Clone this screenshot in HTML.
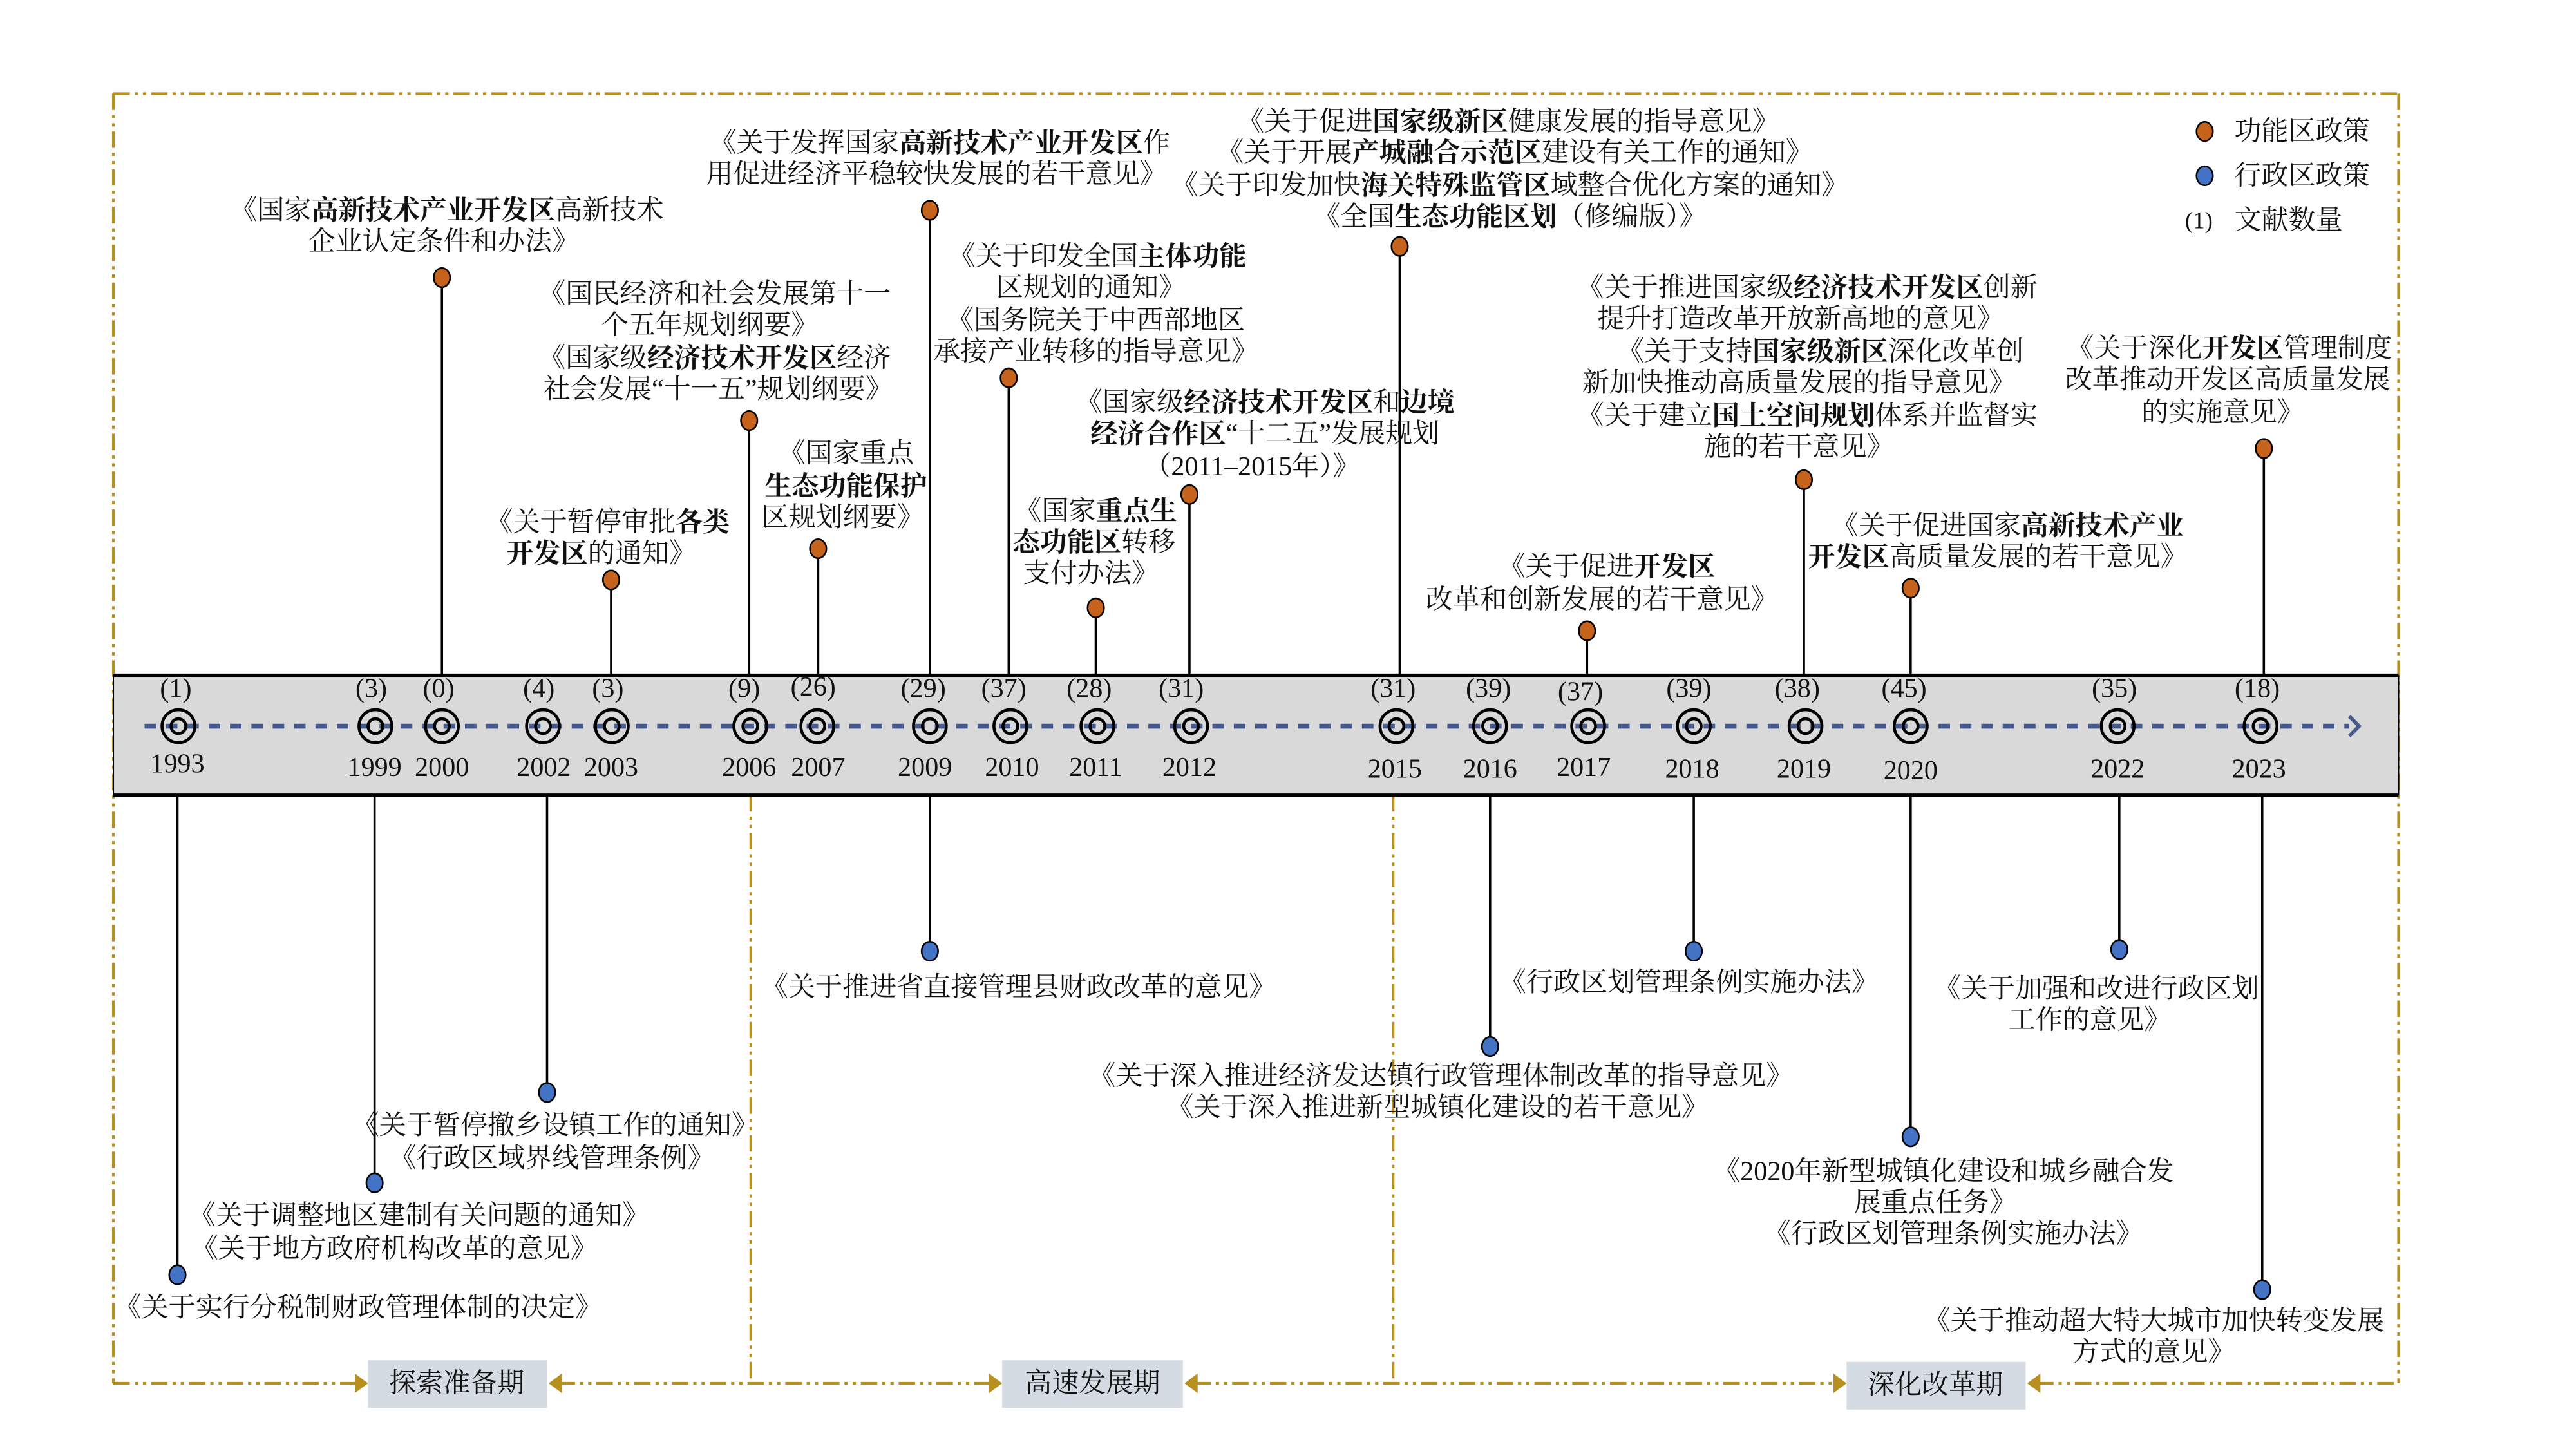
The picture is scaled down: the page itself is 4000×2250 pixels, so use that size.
<!DOCTYPE html>
<html><head><meta charset="utf-8"><style>
html,body{margin:0;padding:0;background:#fff;}
svg{display:block;}
text{font-family:"Liberation Serif","Noto Serif CJK SC","Noto Sans CJK SC",serif;font-size:16.5px;fill:#111;}
.b{font-weight:bold;}
.c{text-anchor:middle;dominant-baseline:central;}
.fr{stroke:#b8901f;stroke-width:1.6;fill:none;stroke-dasharray:10 3 2 3 2 3;}
.st{stroke:#000;stroke-width:1.4;}
</style></head><body>
<svg width="4000" height="2250" viewBox="0 0 1568 882" xmlns="http://www.w3.org/2000/svg">
<rect width="1568" height="882" fill="#fff"/>
<!-- frame -->
<line class="fr" x1="69" y1="57" x2="1460" y2="57"/>
<line class="fr" x1="69" y1="57" x2="69" y2="842"/>
<line class="fr" x1="1460" y1="57" x2="1460" y2="842"/>
<line class="fr" x1="457" y1="484" x2="457" y2="842"/>
<line class="fr" x1="848" y1="484" x2="848" y2="842"/>
<line class="fr" x1="69" y1="842" x2="218" y2="842"/>
<line class="fr" x1="340" y1="842" x2="604" y2="842"/>
<line class="fr" x1="727" y1="842" x2="1118" y2="842"/>
<line class="fr" x1="1240" y1="842" x2="1460" y2="842"/>
<g fill="#b8901f">
<polygon points="216,836 224,842 216,848"/>
<polygon points="342,836 334,842 342,848"/>
<polygon points="602,836 610,842 602,848"/>
<polygon points="729,836 721,842 729,848"/>
<polygon points="1116,836 1124,842 1116,848"/>
<polygon points="1242,836 1234,842 1242,848"/>
</g>
<rect x="224" y="828" width="109" height="29" fill="#d5dbe3"/>
<rect x="610" y="828" width="110" height="29" fill="#d5dbe3"/>
<rect x="1124" y="829" width="109" height="29" fill="#d5dbe3"/>
<text class="c" x="278" y="842">探索准备期</text>
<text class="c" x="665" y="842">高速发展期</text>
<text class="c" x="1178" y="843">深化改革期</text>

<!-- stems up -->
<g class="st">
<line x1="269" y1="169" x2="269" y2="411"/>
<line x1="372" y1="353" x2="372" y2="411"/>
<line x1="456" y1="256" x2="456" y2="411"/>
<line x1="498" y1="334" x2="498" y2="411"/>
<line x1="566" y1="128" x2="566" y2="411"/>
<line x1="614" y1="230" x2="614" y2="411"/>
<line x1="667" y1="370" x2="667" y2="411"/>
<line x1="724" y1="301" x2="724" y2="411"/>
<line x1="852" y1="150" x2="852" y2="411"/>
<line x1="966" y1="384" x2="966" y2="411"/>
<line x1="1098" y1="292" x2="1098" y2="411"/>
<line x1="1163" y1="358" x2="1163" y2="411"/>
<line x1="1378" y1="273" x2="1378" y2="411"/>
<!-- stems down -->
<line x1="108" y1="484" x2="108" y2="776"/>
<line x1="228" y1="484" x2="228" y2="720"/>
<line x1="333" y1="484" x2="333" y2="665"/>
<line x1="566" y1="484" x2="566" y2="579"/>
<line x1="907" y1="484" x2="907" y2="637"/>
<line x1="1031" y1="484" x2="1031" y2="579"/>
<line x1="1163" y1="484" x2="1163" y2="692"/>
<line x1="1290" y1="484" x2="1290" y2="578"/>
<line x1="1377" y1="484" x2="1377" y2="785"/>
</g>
<g fill="#c5621c" stroke="#000" stroke-width="1">
<ellipse cx="269" cy="169" rx="5" ry="5.8"/>
<ellipse cx="372" cy="353" rx="5" ry="5.8"/>
<ellipse cx="456" cy="256" rx="5" ry="5.8"/>
<ellipse cx="498" cy="334" rx="5" ry="5.8"/>
<ellipse cx="566" cy="128" rx="5" ry="5.8"/>
<ellipse cx="614" cy="230" rx="5" ry="5.8"/>
<ellipse cx="667" cy="370" rx="5" ry="5.8"/>
<ellipse cx="724" cy="301" rx="5" ry="5.8"/>
<ellipse cx="852" cy="150" rx="5" ry="5.8"/>
<ellipse cx="966" cy="384" rx="5" ry="5.8"/>
<ellipse cx="1098" cy="292" rx="5" ry="5.8"/>
<ellipse cx="1163" cy="358" rx="5" ry="5.8"/>
<ellipse cx="1378" cy="273" rx="5" ry="5.8"/>
<ellipse cx="1342" cy="80" rx="5" ry="5.8"/>
</g>
<g fill="#4472c4" stroke="#000" stroke-width="1">
<ellipse cx="108" cy="776" rx="5" ry="5.8"/>
<ellipse cx="228" cy="720" rx="5" ry="5.8"/>
<ellipse cx="333" cy="665" rx="5" ry="5.8"/>
<ellipse cx="566" cy="579" rx="5" ry="5.8"/>
<ellipse cx="907" cy="637" rx="5" ry="5.8"/>
<ellipse cx="1031" cy="579" rx="5" ry="5.8"/>
<ellipse cx="1163" cy="692" rx="5" ry="5.8"/>
<ellipse cx="1290" cy="578" rx="5" ry="5.8"/>
<ellipse cx="1377" cy="785" rx="5" ry="5.8"/>
<ellipse cx="1342" cy="107" rx="5" ry="5.8"/>
</g>

<!-- band -->
<rect x="69" y="411" width="1391" height="73" fill="#d9d9d9"/>
<line x1="69" y1="411" x2="1460" y2="411" stroke="#000" stroke-width="2"/>
<line x1="69" y1="484" x2="1460" y2="484" stroke="#000" stroke-width="2"/>
<line x1="69" y1="411" x2="69" y2="484" stroke="#000" stroke-width="0.8"/>
<line x1="1460" y1="411" x2="1460" y2="484" stroke="#000" stroke-width="0.8"/>
<line x1="88" y1="442" x2="1430" y2="442" stroke="#46598a" stroke-width="3" stroke-dasharray="7 6"/>
<polyline points="1430,436 1436,442 1430,448" fill="none" stroke="#46598a" stroke-width="2.2"/>

<g fill="none" stroke="#000" stroke-width="1.8">
<circle cx="108.6" cy="442" r="10"/><circle cx="108.6" cy="442" r="4.5"/>
<circle cx="228.5" cy="442" r="10"/><circle cx="228.5" cy="442" r="4.5"/>
<circle cx="269" cy="442" r="10"/><circle cx="269" cy="442" r="4.5"/>
<circle cx="330.5" cy="442" r="10"/><circle cx="330.5" cy="442" r="4.5"/>
<circle cx="372.4" cy="442" r="10"/><circle cx="372.4" cy="442" r="4.5"/>
<circle cx="456.7" cy="442" r="10"/><circle cx="456.7" cy="442" r="4.5"/>
<circle cx="497.5" cy="442" r="10"/><circle cx="497.5" cy="442" r="4.5"/>
<circle cx="566" cy="442" r="10"/><circle cx="566" cy="442" r="4.5"/>
<circle cx="615" cy="442" r="10"/><circle cx="615" cy="442" r="4.5"/>
<circle cx="668" cy="442" r="10"/><circle cx="668" cy="442" r="4.5"/>
<circle cx="725" cy="442" r="10"/><circle cx="725" cy="442" r="4.5"/>
<circle cx="850" cy="442" r="10"/><circle cx="850" cy="442" r="4.5"/>
<circle cx="907" cy="442" r="10"/><circle cx="907" cy="442" r="4.5"/>
<circle cx="966.7" cy="442" r="10"/><circle cx="966.7" cy="442" r="4.5"/>
<circle cx="1031" cy="442" r="10"/><circle cx="1031" cy="442" r="4.5"/>
<circle cx="1099" cy="442" r="10"/><circle cx="1099" cy="442" r="4.5"/>
<circle cx="1163" cy="442" r="10"/><circle cx="1163" cy="442" r="4.5"/>
<circle cx="1289" cy="442" r="10"/><circle cx="1289" cy="442" r="4.5"/>
<circle cx="1376" cy="442" r="10"/><circle cx="1376" cy="442" r="4.5"/>
</g>
<g style="font-size:14.5px">
<text class="c" x="107" y="419">(1)</text><text class="c" x="108" y="465">1993</text>
<text class="c" x="226" y="419">(3)</text><text class="c" x="228" y="467">1999</text>
<text class="c" x="267" y="419">(0)</text><text class="c" x="269" y="467">2000</text>
<text class="c" x="328" y="419">(4)</text><text class="c" x="331" y="467">2002</text>
<text class="c" x="370" y="419">(3)</text><text class="c" x="372" y="467">2003</text>
<text class="c" x="453" y="419">(9)</text><text class="c" x="456" y="467">2006</text>
<text class="c" x="495" y="418">(26)</text><text class="c" x="498" y="467">2007</text>
<text class="c" x="562" y="419">(29)</text><text class="c" x="563" y="467">2009</text>
<text class="c" x="611" y="419">(37)</text><text class="c" x="616" y="467">2010</text>
<text class="c" x="663" y="419">(28)</text><text class="c" x="667" y="467">2011</text>
<text class="c" x="719" y="419">(31)</text><text class="c" x="724" y="467">2012</text>
<text class="c" x="848" y="419">(31)</text><text class="c" x="849" y="468">2015</text>
<text class="c" x="906" y="419">(39)</text><text class="c" x="907" y="468">2016</text>
<text class="c" x="962" y="421">(37)</text><text class="c" x="964" y="467">2017</text>
<text class="c" x="1028" y="419">(39)</text><text class="c" x="1030" y="468">2018</text>
<text class="c" x="1094" y="419">(38)</text><text class="c" x="1098" y="468">2019</text>
<text class="c" x="1159" y="419">(45)</text><text class="c" x="1163" y="469">2020</text>
<text class="c" x="1287" y="419">(35)</text><text class="c" x="1289" y="468">2022</text>
<text class="c" x="1374" y="419">(18)</text><text class="c" x="1375" y="468">2023</text>
</g>

<!-- legend -->
<text x="1360" y="80" dominant-baseline="central">功能区政策</text>
<text x="1360" y="107" dominant-baseline="central">行政区政策</text>
<text x="1330" y="134" dominant-baseline="central" style="font-size:14.5px">(1)</text>
<text x="1360" y="134" dominant-baseline="central">文献数量</text>

<!-- upper texts -->
<text class="c" x="272" y="128">《国家<tspan class="b">高新技术产业开发区</tspan>高新技术</text>
<text class="c" x="270" y="147">企业认定条件和办法》</text>

<text class="c" x="370" y="318">《关于暂停审批<tspan class="b">各类</tspan></text>
<text class="c" x="366" y="337"><tspan class="b">开发区</tspan>的通知》</text>

<text class="c" x="435" y="179">《国民经济和社会发展第十一</text>
<text class="c" x="432" y="198">个五年规划纲要》</text>
<text class="c" x="435" y="218">《国家级<tspan class="b">经济技术开发区</tspan>经济</text>
<text class="c" x="437" y="237">社会发展“十一五”规划纲要》</text>

<text class="c" x="515" y="276">《国家重点</text>
<text class="c" x="515" y="296"><tspan class="b">生态功能保护</tspan></text>
<text class="c" x="513" y="315">区规划纲要》</text>

<text class="c" x="572" y="87">《关于发挥国家<tspan class="b">高新技术产业开发区</tspan>作</text>
<text class="c" x="570" y="106">用促进经济平稳较快发展的若干意见》</text>

<text class="c" x="668" y="156">《关于印发全国<tspan class="b">主体功能</tspan></text>
<text class="c" x="664" y="175">区规划的通知》</text>
<text class="c" x="667" y="195">《国务院关于中西部地区</text>
<text class="c" x="667" y="214">承接产业转移的指导意见》</text>

<text class="c" x="667" y="311">《国家<tspan class="b">重点生</tspan></text>
<text class="c" x="666" y="330"><tspan class="b">态功能区</tspan>转移</text>
<text class="c" x="664" y="349">支付办法》</text>

<text class="c" x="770" y="245">《国家级<tspan class="b">经济技术开发区</tspan>和<tspan class="b">边境</tspan></text>
<text class="c" x="770" y="264"><tspan class="b">经济合作区</tspan>“十二五”发展规划</text>
<text class="c" x="762" y="284">（2011–2015年）》</text>

<text class="c" x="918" y="74">《关于促进<tspan class="b">国家级新区</tspan>健康发展的指导意见》</text>
<text class="c" x="922" y="93">《关于开展<tspan class="b">产城融合示范区</tspan>建设有关工作的通知》</text>
<text class="c" x="919" y="113">《关于印发加快<tspan class="b">海关特殊监管区</tspan>域整合优化方案的通知》</text>
<text class="c" x="919" y="132">《全国<tspan class="b">生态功能区划</tspan>（修编版）》</text>

<text class="c" x="978" y="345">《关于促进<tspan class="b">开发区</tspan></text>
<text class="c" x="975" y="365">改革和创新发展的若干意见》</text>

<text class="c" x="1100" y="175">《关于推进国家级<tspan class="b">经济技术开发区</tspan>创新</text>
<text class="c" x="1096" y="194">提升打造改革开放新高地的意见》</text>
<text class="c" x="1108" y="214">《关于支持<tspan class="b">国家级新区</tspan>深化改革创</text>
<text class="c" x="1095" y="233">新加快推动高质量发展的指导意见》</text>
<text class="c" x="1100" y="253">《关于建立<tspan class="b">国土空间规划</tspan>体系并监督实</text>
<text class="c" x="1095" y="272">施的若干意见》</text>

<text class="c" x="1222" y="320">《关于促进国家<tspan class="b">高新技术产业</tspan></text>
<text class="c" x="1216" y="339"><tspan class="b">开发区</tspan>高质量发展的若干意见》</text>

<text class="c" x="1357" y="212">《关于深化<tspan class="b">开发区</tspan>管理制度</text>
<text class="c" x="1356" y="231">改革推动开发区高质量发展</text>
<text class="c" x="1353" y="251">的实施意见》</text>

<!-- lower texts -->
<text class="c" x="218" y="796">《关于实行分税制财政管理体制的决定》</text>
<text class="c" x="255" y="740">《关于调整地区建制有关问题的通知》</text>
<text class="c" x="240" y="760">《关于地方政府机构改革的意见》</text>
<text class="c" x="338" y="685">《关于暂停撤乡设镇工作的通知》</text>
<text class="c" x="336" y="705">《行政区域界线管理条例》</text>
<text class="c" x="620" y="601">《关于推进省直接管理县财政改革的意见》</text>
<text class="c" x="877" y="655">《关于深入推进经济发达镇行政管理体制改革的指导意见》</text>
<text class="c" x="875" y="674">《关于深入推进新型城镇化建设的若干意见》</text>
<text class="c" x="1028" y="598">《行政区划管理条例实施办法》</text>
<text class="c" x="1183" y="713">《2020年新型城镇化建设和城乡融合发</text>
<text class="c" x="1178" y="732">展重点任务》</text>
<text class="c" x="1189" y="751">《行政区划管理条例实施办法》</text>
<text class="c" x="1276" y="602">《关于加强和改进行政区划</text>
<text class="c" x="1272" y="621">工作的意见》</text>
<text class="c" x="1311" y="804">《关于推动超大特大城市加快转变发展</text>
<text class="c" x="1311" y="823">方式的意见》</text>
</svg>
</body></html>
